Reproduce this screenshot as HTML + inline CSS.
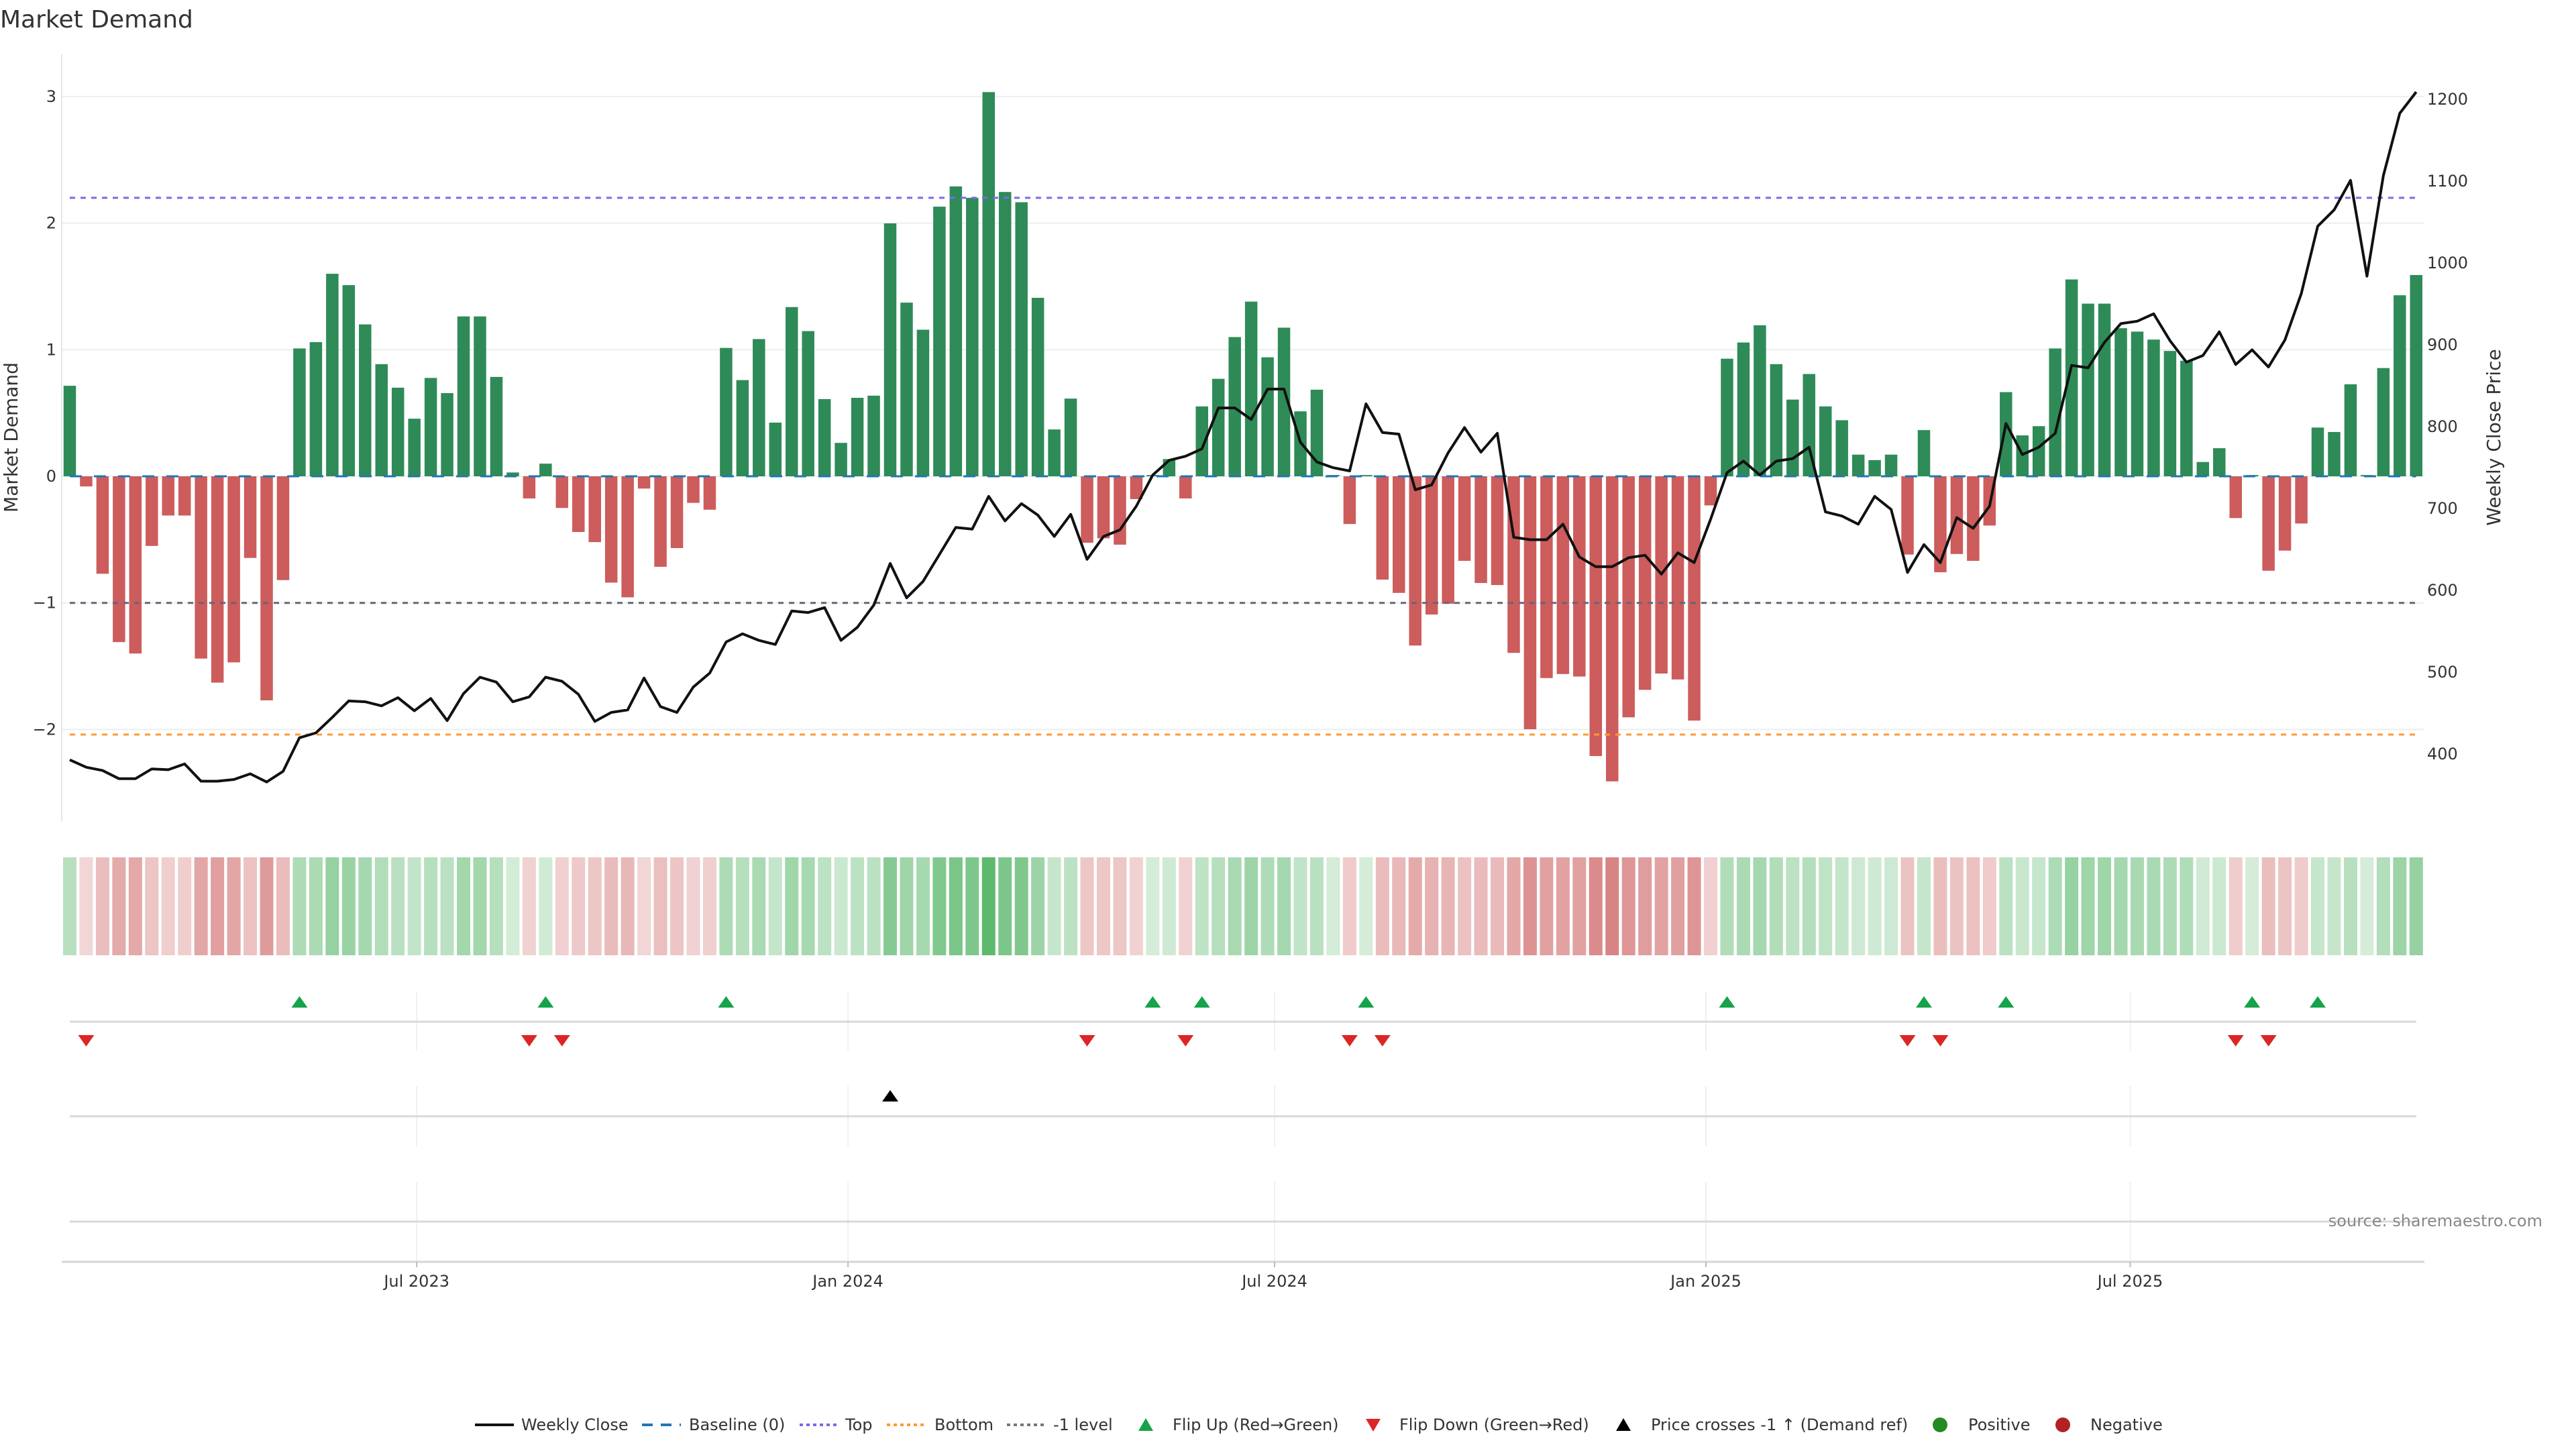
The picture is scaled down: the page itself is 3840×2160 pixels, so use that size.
<!DOCTYPE html>
<html><head><meta charset="utf-8"><style>
html,body{margin:0;padding:0;background:#fff;}
svg{display:block;font-family:"DejaVu Sans","Liberation Sans",sans-serif;}
</style></head><body>
<svg id="chart" width="3840" height="2160" viewBox="0 0 3840 2160" xmlns="http://www.w3.org/2000/svg">
<rect width="3840" height="2160" fill="#fff"/>
<text x="0" y="41" font-size="36" fill="#333">Market Demand</text>
<g id="main"></g>
<g id="heat"></g>
<g id="marks"></g>
<g id="xaxis"></g>
<text x="3790" y="1828" font-size="24" fill="#888" text-anchor="end">source: sharemaestro.com</text>
<g id="legend"></g>
</svg>
<script>
const demandValues = [0.715,-0.08,-0.77,-1.31,-1.40,-0.55,-0.31,-0.31,-1.44,-1.63,-1.47,-0.645,-1.77,-0.82,1.01,1.06,1.60,1.51,1.20,0.886,0.70,0.455,0.777,0.657,1.263,1.263,0.785,0.03,-0.175,0.10,-0.25,-0.44,-0.52,-0.84,-0.956,-0.097,-0.715,-0.567,-0.21,-0.264,1.014,0.76,1.084,0.424,1.337,1.147,0.61,0.264,0.62,0.637,1.998,1.372,1.158,2.13,2.29,2.20,3.035,2.246,2.165,1.41,0.37,0.614,-0.525,-0.49,-0.54,-0.18,0.01,0.136,-0.175,0.552,0.77,1.10,1.38,0.94,1.174,0.513,0.684,0.01,-0.377,0.01,-0.816,-0.921,-1.337,-1.092,-1.007,-0.668,-0.843,-0.859,-1.395,-1.998,-1.594,-1.562,-1.582,-2.21,-2.41,-1.904,-1.687,-1.558,-1.605,-1.93,-0.23,0.929,1.057,1.193,0.886,0.606,0.808,0.552,0.443,0.171,0.128,0.171,-0.618,0.365,-0.758,-0.614,-0.668,-0.389,0.665,0.323,0.396,1.01,1.555,1.364,1.364,1.17,1.143,1.08,0.99,0.913,0.113,0.222,-0.33,0.01,-0.746,-0.587,-0.373,0.385,0.35,0.727,0.01,0.855,1.43,1.59];
const weeklyClose = [392,383,379,369,369,381,380,387,366,366,368,375,365,378,419,425,444,464,463,458,468,452,467,440,473,493,487,463,469,493,488,472,439,450,453,492,457,450,481,498,536,546,538,533,574,572,578,538,554,581,632,590,610,643,676,674,714,684,705,691,665,692,637,665,673,702,740,758,763,772,822,822,808,845,845,780,756,749,745,827,792,790,722,728,767,798,768,791,664,661,661,680,640,628,628,639,642,619,645,633,686,743,757,740,757,760,774,695,690,680,714,698,621,655,633,688,675,702,803,765,774,791,874,871,902,925,928,937,904,878,886,915,875,893,872,905,962,1044,1064,1100,983,1106,1182,1208];
const leftTicks = [-2,-1,0,1,2,3];
const leftTickLabels = ["\u22122","\u22121","0","1","2","3"];
const rightTicks = [400,500,600,700,800,900,1000,1100,1200];
const levelTop = 2.2, levelBottom = -2.04, levelMinus1 = -1;
const startDate = "2023-02-03";
const xTickDates = ["2023-07-01","2024-01-01","2024-07-01","2025-01-01","2025-07-01"];
const xTickLabels = ["Jul 2023","Jan 2024","Jul 2024","Jan 2025","Jul 2025"];

const NS="http://www.w3.org/2000/svg";
function mk(tag, attrs, parent){const e=document.createElementNS(NS,tag);for(const k in attrs)e.setAttribute(k,attrs[k]);parent.appendChild(e);return e;}
const step=24.46, x0=104;
const xi = i => x0 + step*i;
const t0 = Date.parse(startDate+"T00:00:00Z");
const xd = s => x0 + (Date.parse(s+"T00:00:00Z")-t0)/86400000/7*step;
const yL = v => 710 - v*188.7;
const yR = p => 146.9 + (1200-p)*1.2201;
const PL=92, PR=3614;

const main=document.getElementById('main');
leftTicks.forEach((t,k)=>{
  const g=mk('line',{x1:PL,x2:PR,y1:yL(t),y2:yL(t),stroke:'#eeeeee','stroke-width':2},main);
  
  
  const tx=mk('text',{x:84,y:yL(t)+8,'font-size':24,fill:'#333','text-anchor':'end'},main);
  tx.textContent=leftTickLabels[k];
  
  
});
const sp=mk('line',{x1:PL,x2:PL,y1:81,y2:1224,stroke:'#e6e6e6','stroke-width':2},main);


rightTicks.forEach(t=>{
  const tx=mk('text',{x:3618,y:yR(t)+9,'font-size':24,fill:'#333'},main);
  tx.textContent=t;
  
  
});
const ylt=mk('text',{x:0,y:0,'font-size':28,fill:'#333','text-anchor':'middle',transform:'translate(26,652) rotate(-90)'},main);
ylt.textContent='Market Demand';


const yrt=mk('text',{x:0,y:0,'font-size':28,fill:'#333','text-anchor':'middle',transform:'translate(3727,652) rotate(-90)'},main);
yrt.textContent='Weekly Close Price';


demandValues.forEach((v,i)=>{
  const y=Math.min(yL(v),yL(0)), h=Math.abs(yL(v)-yL(0));
  const b=mk('rect',{x:xi(i)-9.25,y:y,width:18.5,height:Math.max(h,0.5),fill:v>=0?'#2e8b57':'#cd5c5c'},main);
  
  
});
function hline(v,color,dash,name){const l=mk('line',{x1:x0,x2:xi(demandValues.length-1),y1:yL(v),y2:yL(v),stroke:color,'stroke-width':3,'stroke-dasharray':dash},main);
  
  }
hline(0,'#1f77b4','18 18','baseline-zero');
hline(levelTop,'#7b68ee','8 8','top-level-line');
hline(levelBottom,'#ff9933','8 8','bottom-level-line');
hline(levelMinus1,'#666677','8 8','minus-one-level-line');
const pts=weeklyClose.map((p,i)=>xi(i).toFixed(1)+','+yR(p).toFixed(1)).join(' ');
const pl=mk('polyline',{points:pts,fill:'none',stroke:'#111','stroke-width':4,'stroke-linejoin':'round'},main);



const heat=document.getElementById('heat');
const maxAbs=3.0;
demandValues.forEach((v,i)=>{
  const a=Math.min(1,0.22+0.6*Math.abs(v)/maxAbs);
  const base=v>=0?[60,170,80]:[200,80,80];
  const c=base.map(b=>Math.round(255-(255-b)*a));
  const r=mk('rect',{x:xi(i)-10,y:1278,width:20,height:146,fill:`rgb(${c[0]},${c[1]},${c[2]})`},heat);
  
  
});

const marks=document.getElementById('marks');
xTickDates.forEach(d=>{
  [[1479,1566],[1619,1709],[1762,1881]].forEach(s=>{
    const g=mk('line',{x1:xd(d),x2:xd(d),y1:s[0],y2:s[1],stroke:'#f0f0f0','stroke-width':2},marks);
    
    
  });
});
[1523,1664,1821].forEach(y=>{
  const l=mk('line',{x1:104,x2:3602,y1:y,y2:y,stroke:'#d9d9d9','stroke-width':3},marks);
  
  
});
function tri(x,y,up,color,name){
  const p=up?`${x-12},${y+8} ${x+12},${y+8} ${x},${y-9}`:`${x-12},${y-8} ${x+12},${y-8} ${x},${y+9}`;
  const t=mk('polygon',{points:p,fill:color},marks);
  
  
}
const priceAtMinus1 = 1200-(yL(levelMinus1)-146.9)/1.2201;
for(let i=1;i<demandValues.length;i++){
  const a=demandValues[i-1], b=demandValues[i];
  if(a<0&&b>=0) tri(xi(i),1494,true,'#16a34a','flip-up-marker');
  if(a>=0&&b<0) tri(xi(i),1551,false,'#dc2626','flip-down-marker');
  if(weeklyClose[i-1]<priceAtMinus1&&weeklyClose[i]>=priceAtMinus1) tri(xi(i),1634,true,'#000','price-cross-marker');
}

const xa=document.getElementById('xaxis');
const al=mk('line',{x1:PL,x2:PR,y1:1881,y2:1881,stroke:'#d6d6d6','stroke-width':3},xa);


xTickDates.forEach((d,k)=>{
  const tk=mk('line',{x1:xd(d),x2:xd(d),y1:1881,y2:1889,stroke:'#bbb','stroke-width':2},xa);
  
  
  const t=mk('text',{x:xd(d),y:1918,'font-size':24,fill:'#333','text-anchor':'middle'},xa);
  t.textContent=xTickLabels[k];
  
  
});

const lg=document.getElementById('legend');
const LY=2124;
function ltext(x,s){const t=mk('text',{x:x,y:LY+8,'font-size':24,fill:'#333'},lg);t.textContent=s;
  
  }
function lline(x1,x2,color,w,dash){const l=mk('line',{x1:x1,x2:x2,y1:LY,y2:LY,stroke:color,'stroke-width':w,'stroke-dasharray':dash},lg);
  
  }
lline(708,766,'#111',4,'none'); ltext(777,'Weekly Close');
lline(957,1015,'#1f77b4',4,'16 12'); ltext(1027,'Baseline (0)');
lline(1192,1247,'#7b68ee',4,'5 5'); ltext(1260,'Top');
lline(1322,1380,'#ff9933',4,'5 5'); ltext(1393,'Bottom');
lline(1501,1557,'#777',4,'5 5'); ltext(1570,'-1 level');
function ltri(x,color){const t=mk('polygon',{points:`${x-11},${LY+9} ${x+11},${LY+9} ${x},${LY-10}`,fill:color},lg);
  
  }
function ltriD(x,color){const t=mk('polygon',{points:`${x-11},${LY-9} ${x+11},${LY-9} ${x},${LY+10}`,fill:color},lg);
  
  }
ltri(1708,'#16a34a'); ltext(1748,'Flip Up (Red\u2192Green)');
ltriD(2047,'#dc2626'); ltext(2086,'Flip Down (Green\u2192Red)');
ltri(2420,'#000'); ltext(2461,'Price crosses -1 \u2191 (Demand ref)');
function lcirc(x,color){const c=mk('circle',{cx:x,cy:LY,r:11,fill:color},lg);
  
  }
lcirc(2892,'#228b22'); ltext(2934,'Positive');
lcirc(3075,'#b22222'); ltext(3116,'Negative');
</script>
</body></html>
